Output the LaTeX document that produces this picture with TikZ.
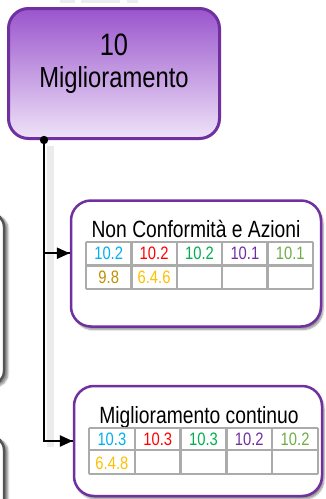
\documentclass[tikz,border=0pt]{standalone}
\usepackage{fontspec}
\newfontfamily\narrowfont{Liberation Sans}[FakeStretch=0.82]
\usetikzlibrary{shadows.blur,calc,arrows.meta}

\definecolor{boxpurple}{HTML}{7030A0}
\definecolor{toppurple}{HTML}{9A55CD}
\definecolor{botpurple}{HTML}{EFE3F8}
\definecolor{gridgray}{HTML}{ABABAB}
\definecolor{sidegray}{HTML}{555555}
\definecolor{cyanref}{HTML}{00B0F0}
\definecolor{redref}{HTML}{FF0000}
\definecolor{greenref}{HTML}{00B050}
\definecolor{purpleref}{HTML}{7030A0}
\definecolor{lgreenref}{HTML}{70AD47}
\definecolor{dgoldref}{HTML}{BF9000}
\definecolor{goldref}{HTML}{FFC000}

\tikzset{
  mainbox/.style={draw=boxpurple, line width=3pt, rounded corners=20pt,
    top color=toppurple, bottom color=botpurple, inner sep=0pt},
  subbox/.style={draw=boxpurple, line width=2.5pt, rounded corners=20pt,
    fill=white, inner sep=0pt,
    blur shadow={shadow xshift=2pt, shadow yshift=-3pt, shadow blur steps=6, shadow opacity=45}},
  sidebox/.style={draw=sidegray, line width=2.5pt, rounded corners=14pt,
    fill=white, inner sep=0pt,
    blur shadow={shadow xshift=4pt, shadow yshift=-2pt, shadow blur steps=6, shadow opacity=45}},
  grid/.style={draw=gridgray, line width=2.4pt},
  cell/.style={font=\narrowfont\fontsize{18}{18}\selectfont, anchor=base, inner sep=0pt},
  title/.style={font=\narrowfont\fontsize{23.5}{24}\selectfont, anchor=base, inner sep=0pt},
  link/.style={line width=2.5pt, black},
  linkshadow/.style={line width=7pt, gray!15},
}

\begin{document}
\begin{tikzpicture}[x=1pt,y=-1pt]
\useasboundingbox (0,0) rectangle (326,499);

% faint shadows of items above the frame
\fill[gray!30, opacity=0.5] (60,-2) rectangle (75,3);
\fill[gray!30, opacity=0.5] (81,-2) rectangle (120,3);
\fill[gray!30, opacity=0.5] (127,-2) rectangle (138,3);

% neighbouring boxes on the left
\node[sidebox, minimum width=106pt, minimum height=172pt] (left1) at (-49,299) {};
\node[sidebox, minimum width=106pt, minimum height=150pt] (left2) at (-49,511) {};

% main section box
\node[mainbox, minimum width=211pt, minimum height=130pt] (main) at (114,73.5) {};
\node[font=\narrowfont\fontsize{31}{31}\selectfont, anchor=base, inner sep=0pt] (num) at (114,55.5) {10};
\node[font=\narrowfont\fontsize{29}{29}\selectfont, anchor=base, inner sep=0pt] (mtitle) at (114,87.5) {Miglioramento};

% sub boxes
\node[subbox, minimum width=250pt, minimum height=126pt] (nc) at (196,263.5) {};
\node[subbox, minimum width=248pt, minimum height=110pt] (mc) at (198,441) {};

% connector trunk and its shadow
\coordinate (trunk) at (44,140);
\coordinate (ncin) at ($(nc.north west)!0.42!(nc.south west)$);
\draw[linkshadow] ($(trunk)+(6,6)$) -- ($(trunk |- mc.west)+(6,6)$);
\draw[link] (trunk) |- (ncin);
\draw[link] (trunk) |- (mc.west);
\draw[link, -{Triangle[length=13pt,width=11pt]}] (trunk |- ncin) -- (ncin);
\draw[link, -{Triangle[length=13pt,width=11pt]}] (trunk |- mc.west) -- (mc.west);
\fill (trunk) circle (4.2pt);

% --- Non Conformita e Azioni ---
\node[title] (nctitle) at (196,237) {Non Conformità e Azioni};
\foreach \x in {86,131.4,176.8,222.2,267.6,313} \draw[grid] (\x,242) -- (\x,289);
\foreach \y in {242,265.5,289} \draw[grid] (86,\y) -- (313,\y);
\node[cell, text=cyanref]   (nc11) at (108.7,259) {10.2};
\node[cell, text=redref]    (nc12) at (154.1,259) {10.2};
\node[cell, text=greenref]  (nc13) at (199.5,259) {10.2};
\node[cell, text=purpleref] (nc14) at (244.9,259) {10.1};
\node[cell, text=lgreenref] (nc15) at (290.3,259) {10.1};
\node[cell, text=dgoldref]  (nc21) at (108.7,283) {9.8};
\node[cell, text=goldref]   (nc22) at (154.1,283) {6.4.6};

% --- Miglioramento continuo ---
\node[title] (mctitle) at (199,423) {Miglioramento continuo};
\foreach \x in {89,134.8,180.6,226.4,272.2,318} \draw[grid] (\x,428) -- (\x,474);
\foreach \y in {428,450,474} \draw[grid] (89,\y) -- (318,\y);
\node[cell, text=cyanref]   (mc11) at (111.9,445) {10.3};
\node[cell, text=redref]    (mc12) at (157.7,445) {10.3};
\node[cell, text=greenref]  (mc13) at (203.5,445) {10.3};
\node[cell, text=purpleref] (mc14) at (249.3,445) {10.2};
\node[cell, text=lgreenref] (mc15) at (295.1,445) {10.2};
\node[cell, text=goldref]   (mc21) at (111.9,469) {6.4.8};
\end{tikzpicture}
\end{document}
